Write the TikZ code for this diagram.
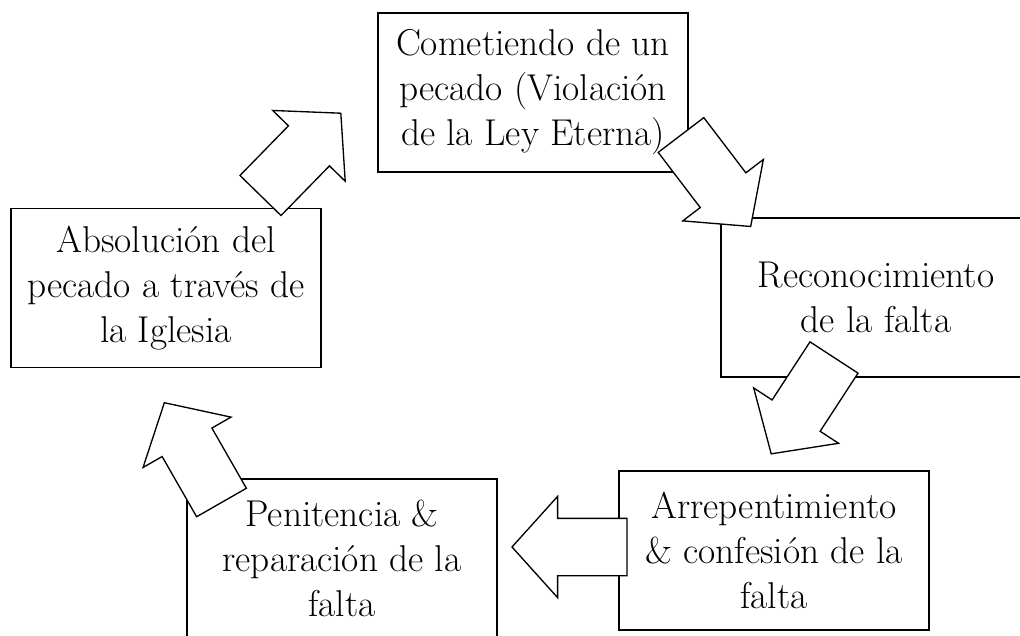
\documentclass[tikz,border=0pt]{standalone}
\usetikzlibrary{shapes.arrows}
\begin{document}
\begin{tikzpicture}[x=0.75pt,y=-0.75pt,
  stepbox/.style={draw,line width=1pt,minimum width=232.5pt,minimum height=119.25pt,
    align=center,inner sep=0pt,font=\fontsize{28}{33.75}\selectfont},
  blockarrow/.style={single arrow,draw,fill=white,line width=1pt,inner xsep=0pt,inner ysep=21pt,
    outer sep=0pt,minimum height=86.25pt,minimum width=75pt,single arrow head extend=16.5pt,
    single arrow tip angle=96,anchor=tail}]
  \useasboundingbox (0,0) rectangle (1020,635);
  \clip (0,0) rectangle (1020,635);
  % the five steps
  \node[stepbox] (sin) at (533,92.5) {Cometiendo de un\\pecado (Violación\\de la Ley Eterna)};
  \node[stepbox] (recon) at (876,297.5) {Reconocimiento\\de la falta};
  \node[stepbox] (arrep) at (774,550.5) {Arrepentimiento\\\& confesión de la\\falta};
  \node[stepbox] (penit) at (342,558.5) {Penitencia \&\\reparación de la\\falta};
  \node[stepbox] (absol) at (166,288) {Absolución del\\pecado a través de\\la Iglesia};
  % block arrows between the steps
  \node[blockarrow,rotate=-52.7] (sin-recon) at (681,135) {};
  \node[blockarrow,rotate=-123.1] (recon-arrep) at (834,357.5) {};
  \node[blockarrow,rotate=180] (arrep-penit) at (627,547) {};
  \node[blockarrow,rotate=119.8] (penit-absol) at (221.5,502.5) {};
  \node[blockarrow,rotate=45.7] (absol-sin) at (260.5,195.5) {};
\end{tikzpicture}
\end{document}
